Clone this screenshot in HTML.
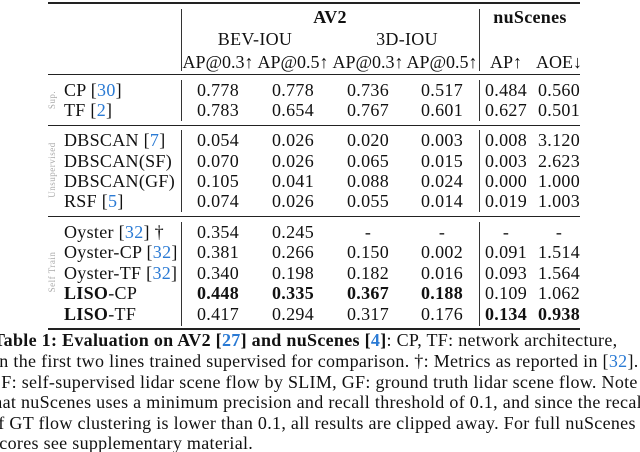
<!DOCTYPE html>
<html><head><meta charset="utf-8"><style>
body{margin:0;background:#fff}
#t{position:relative;width:640px;height:452px;overflow:hidden;background:#fff;font-family:"Liberation Serif","DejaVu Serif",serif;font-size:18px;letter-spacing:0.3px;color:#111}
.c{position:absolute;transform:translateX(-50%);white-space:nowrap;line-height:20px}
.h{letter-spacing:0}
.l{position:absolute;white-space:nowrap;line-height:20px}
.hr{position:absolute;left:48px;width:532px;background:#222}
.vr{position:absolute;width:1px;background:#333}
.rot{position:absolute;font-size:9px;color:#aaa;transform:translate(-50%,-50%) rotate(-90deg);white-space:nowrap;letter-spacing:0.5px}
.ref{color:#2a7ad4}
b{font-weight:bold}
.cap{position:absolute;white-space:nowrap;line-height:20px;font-size:18px;letter-spacing:0.3px}
</style></head><body>
<div id="t">
<div class="hr" style="top:2px;height:2px"></div>
<div class="hr" style="top:74px;height:1px"></div>
<div class="hr" style="top:125px;height:1px"></div>
<div class="hr" style="top:216px;height:1px"></div>
<div class="hr" style="top:328px;height:2px"></div>
<div class="vr" style="left:181px;top:9px;height:62px"></div>
<div class="vr" style="left:181px;top:80px;height:41px"></div>
<div class="vr" style="left:181px;top:130px;height:82px"></div>
<div class="vr" style="left:181px;top:222px;height:104px"></div>
<div class="vr" style="left:479px;top:9px;height:62px"></div>
<div class="vr" style="left:479px;top:80px;height:41px"></div>
<div class="vr" style="left:479px;top:130px;height:82px"></div>
<div class="vr" style="left:479px;top:222px;height:104px"></div>

<div class="c" style="left:330px;top:7px"><b>AV2</b></div>
<div class="c" style="left:530px;top:7px"><b>nuScenes</b></div>
<div class="c" style="left:255px;top:29px">BEV-IOU</div>
<div class="c" style="left:407px;top:29px">3D-IOU</div>
<div class="c h" style="left:218px;top:52px">AP@0.3↑</div>
<div class="c h" style="left:293px;top:52px">AP@0.5↑</div>
<div class="c h" style="left:368px;top:52px">AP@0.3↑</div>
<div class="c h" style="left:442px;top:52px">AP@0.5↑</div>
<div class="c h" style="left:506px;top:52px">AP↑</div>
<div class="c h" style="left:559px;top:52px">AOE↓</div>

<div class="rot" style="left:52px;top:100px">Sup.</div>
<div class="rot" style="left:52px;top:170px">Unsupervised</div>
<div class="rot" style="left:52px;top:272px">Self Train</div>

<div id="rows"></div>

<div class="cap" style="left:-7px;top:330px"><b>Table 1: Evaluation on AV2 [<span class="ref">27</span>] and nuScenes [<span class="ref">4</span>]</b>: CP, TF: network architecture,</div>
<div class="cap" style="left:-7px;top:351px">In the first two lines trained supervised for comparison. †: Metrics as reported in [<span class="ref">32</span>].</div>
<div class="cap" style="left:-9px;top:372px">SF: self-supervised lidar scene flow by SLIM, GF: ground truth lidar scene flow. Note</div>
<div class="cap" style="left:-12px;top:392px">that nuScenes uses a minimum precision and recall threshold of 0.1, and since the recall</div>
<div class="cap" style="left:-11px;top:413px">of GT flow clustering is lower than 0.1, all results are clipped away. For full nuScenes</div>
<div class="cap" style="left:-8px;top:433px">scores see supplementary material.</div>
</div>
<script>
const methods=['CP [<span class="ref">30</span>]','TF [<span class="ref">2</span>]','DBSCAN [<span class="ref">7</span>]','DBSCAN(SF)','DBSCAN(GF)','RSF [<span class="ref">5</span>]','Oyster [<span class="ref">32</span>] †','Oyster-CP [<span class="ref">32</span>]','Oyster-TF [<span class="ref">32</span>]','<b>LISO</b>-CP','<b>LISO</b>-TF'];
const bev03=['0.778','0.783','0.054','0.070','0.105','0.074','0.354','0.381','0.340','<b>0.448</b>','0.417'];
const bev05=['0.778','0.654','0.026','0.026','0.041','0.026','0.245','0.266','0.198','<b>0.335</b>','0.294'];
const d303=['0.736','0.767','0.020','0.065','0.088','0.055','-','0.150','0.182','<b>0.367</b>','0.317'];
const d305=['0.517','0.601','0.003','0.015','0.024','0.014','-','0.002','0.016','<b>0.188</b>','0.176'];
const nuAP=['0.484','0.627','0.008','0.003','0.000','0.019','-','0.091','0.093','0.109','<b>0.134</b>'];
const nuAOE=['0.560','0.501','3.120','2.623','1.000','1.003','-','1.514','1.564','1.062','<b>0.938</b>'];
const rowY=[80,100,130,151,171,191,222,242,263,283,304];
const cols=[[bev03,218],[bev05,293],[d303,368],[d305,442],[nuAP,506],[nuAOE,559]];
const root=document.getElementById('rows');
methods.forEach((m,i)=>{
  const d=document.createElement('div');d.className='l';d.style.left='64px';d.style.top=rowY[i]+'px';d.innerHTML=m;
  
  
  root.appendChild(d);
  cols.forEach(([arr,x])=>{
    const e=document.createElement('div');e.className='c';e.style.left=x+'px';e.style.top=rowY[i]+'px';e.innerHTML=arr[i];
    
    
    root.appendChild(e);
  });
});
</script>
</body></html>
